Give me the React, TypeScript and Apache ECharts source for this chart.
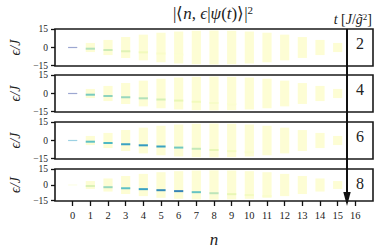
import React, { useEffect, useRef } from "react";
import * as echarts from "echarts";

// photon number n on the x axis
const nTicks = [0, 1, 2, 3, 4, 5, 6, 7, 8, 9, 10, 11, 12, 13, 14, 15, 16];
// energy tick labels
const epsTicks = [-15, 0, 15];
// times shown in the four panels (J / g~^2)
const times = [2, 4, 6, 8];

// half-height of the faint (yellow) energy band for every n
const bandN = [1, 2, 3, 4, 5, 6, 7, 8, 9, 10, 11, 12, 13, 14, 15];
const bandHalf = [3.8, 6.3, 8.7, 10.7, 12.3, 13.3, 13.9, 14.1, 13.9, 13.3, 12.3, 10.7, 8.7, 6.3, 3.8];

// energy of the dominant level for every n
const peakN = [0, 1, 2, 3, 4, 5, 6, 7, 8, 9, 10, 11];
const peakEps = [0, -1.0, -2.1, -3.1, -4.0, -5.0, -5.9, -6.9, -7.9, -8.8, -9.7, -10.6];

// weight of the dominant level in each panel (0..1)
const weightT2 = [0.85, 0.3, 0.25, 0.18, 0.1, 0.05, 0.02, 0, 0, 0, 0, 0];
const weightT4 = [0.85, 0.42, 0.37, 0.35, 0.3, 0.22, 0.15, 0.1, 0.06, 0.03, 0, 0];
const weightT6 = [0.6, 0.48, 0.52, 0.6, 0.63, 0.6, 0.44, 0.27, 0.15, 0.08, 0.04, 0];
const weightT8 = [0.05, 0.2, 0.35, 0.48, 0.6, 0.67, 0.69, 0.46, 0.28, 0.15, 0.08, 0.04];
const weights = [weightT2, weightT4, weightT6, weightT8];

const YLGNBU = ["#ffffd9", "#edf8b1", "#c7e9b4", "#7fcdbb", "#41b6c4", "#1d91c0", "#225ea8", "#253494", "#081d58"];

function hexToRgb(h: string) {
  return [parseInt(h.slice(1, 3), 16), parseInt(h.slice(3, 5), 16), parseInt(h.slice(5, 7), 16)];
}
function colorScale(v: number) {
  const t = Math.max(0, Math.min(1, v)) * (YLGNBU.length - 1);
  const i = Math.min(YLGNBU.length - 2, Math.floor(t));
  const f = t - i;
  const a = hexToRgb(YLGNBU[i]);
  const b = hexToRgb(YLGNBU[i + 1]);
  const c = a.map((x, k) => Math.round(x + (b[k] - x) * f));
  return `rgb(${c[0]},${c[1]},${c[2]})`;
}

const SERIF = "Liberation Serif";
const TOPS = [29, 75, 122, 169];
const H = 37;

export default function App() {
  const ref = useRef<HTMLDivElement>(null);
  useEffect(() => {
    if (!ref.current) return;
    const chart = echarts.init(ref.current, null, { renderer: "svg" });

    const grids: any[] = [];
    const xAxes: any[] = [];
    const yAxes: any[] = [];
    const series: any[] = [];

    times.forEach((t, i) => {
      const last = i === times.length - 1;
      grids.push({
        left: 53,
        top: TOPS[i],
        width: 320,
        height: H,
        show: true,
        borderColor: "#1a1a1a",
        borderWidth: 1.6,
        backgroundColor: "transparent",
      });
      xAxes.push({
        type: "value",
        gridIndex: i,
        min: -1,
        max: 17,
        position: "bottom",
        axisLine: { show: false, onZero: false },
        splitLine: { show: false },
        axisTick: last
          ? { show: true, customValues: nTicks, length: 5, lineStyle: { color: "#111", width: 1.3 } }
          : { show: false },
        axisLabel: last
          ? { show: true, customValues: nTicks, margin: 9, fontFamily: SERIF, fontSize: 10.5, color: "#222" }
          : { show: false },
        name: last ? "n" : "",
        nameLocation: "middle",
        nameGap: 30,
        nameTextStyle: { fontFamily: SERIF, fontStyle: "italic", fontSize: 17, color: "#222" },
      });
      yAxes.push({
        type: "value",
        gridIndex: i,
        min: -15.4,
        max: 15.4,
        position: "left",
        axisLine: { show: false, onZero: false },
        splitLine: { show: false },
        axisTick: { show: true, customValues: epsTicks, length: 4, lineStyle: { color: "#111", width: 1.3 } },
        axisLabel: {
          customValues: epsTicks,
          margin: 7,
          fontFamily: SERIF,
          fontSize: 9.5,
          lineHeight: 9,
          color: "#222",
          formatter: (v: number) => (v < 0 ? "\u2212" + Math.abs(v) : String(v)),
        },
        name: "\u03f5/J",
        nameLocation: "middle",
        nameRotate: 90,
        nameGap: 33,
        nameTextStyle: { fontFamily: SERIF, fontStyle: "italic", fontSize: 14, color: "#222" },
      });
      series.push({
        type: "custom",
        coordinateSystem: "cartesian2d",
        xAxisIndex: i,
        yAxisIndex: i,
        silent: true,
        data: bandN.map((n, k) => [n, bandHalf[k]]),
        renderItem: (_p: any, api: any) => {
          const n = api.value(0);
          const h = api.value(1);
          const p1 = api.coord([n - 0.26, h]);
          const p2 = api.coord([n + 0.26, -h]);
          return {
            type: "rect",
            shape: { x: p1[0], y: p1[1], width: p2[0] - p1[0], height: p2[1] - p1[1] },
            style: { fill: "#fdfdd4" },
          };
        },
      });
      const w = weights[i];
      series.push({
        type: "custom",
        coordinateSystem: "cartesian2d",
        xAxisIndex: i,
        yAxisIndex: i,
        silent: true,
        data: peakN.map((n, k) => [n, peakEps[k], w[k]]).filter((d) => d[2] > 0),
        renderItem: (_p: any, api: any) => {
          const n = api.value(0);
          const c = api.coord([n, api.value(1)]);
          const wd = api.size([0.52, 0])[0];
          const thin = n === 0;
          const hh = thin ? 1.2 : 2;
          return {
            type: "rect",
            shape: { x: c[0] - wd / 2, y: c[1] - hh / 2, width: wd, height: hh },
            style: { fill: colorScale(api.value(2)), opacity: thin ? 0.45 : 0.9 },
          };
        },
      });
    });

    const graphic: any[] = [
      {
        type: "text",
        x: 213,
        y: 13,
        style: {
          text: "{u||\u27e8}{i|n}{u|, }{i|\u03f5}{u||}{i|\u03c8}{u|(}{i|t}{u|)\u27e9|}{s|2}",
          align: "center",
          verticalAlign: "middle",
          rich: {
            u: { fontFamily: SERIF, fontSize: 17, fill: "#222" },
            i: { fontFamily: SERIF, fontSize: 17, fontStyle: "italic", fill: "#222" },
            s: { fontFamily: SERIF, fontSize: 11, fill: "#222", verticalAlign: "top" },
          },
        },
      },
      {
        type: "text",
        x: 372,
        y: 19,
        style: {
          text: "{i|t} {u|[}{i|J}{u|/}{i|g\u0303}{s|2}{u|]}",
          align: "right",
          verticalAlign: "middle",
          rich: {
            u: { fontFamily: SERIF, fontSize: 14, fill: "#222" },
            i: { fontFamily: SERIF, fontSize: 14, fontStyle: "italic", fill: "#222" },
            s: { fontFamily: SERIF, fontSize: 9, fill: "#222", verticalAlign: "top" },
          },
        },
      },
      {
        type: "line",
        shape: { x1: 347, y1: 29, x2: 347, y2: 195 },
        style: { stroke: "#111", lineWidth: 2 },
      },
      {
        type: "polygon",
        shape: { points: [[343.3, 192], [350.7, 192], [347, 206]] },
        style: { fill: "#111" },
      },
    ];
    times.forEach((t, i) => {
      graphic.push({
        type: "text",
        x: 360,
        y: TOPS[i] + 14,
        style: {
          text: String(t),
          align: "center",
          verticalAlign: "middle",
          fontFamily: SERIF,
          fontSize: 16,
          fill: "#222",
        },
      });
    });

    chart.setOption({
      animation: false,
      backgroundColor: "#fff",
      grid: grids,
      xAxis: xAxes,
      yAxis: yAxes,
      series,
      graphic,
    });
    return () => chart.dispose();
  }, []);
  return <div ref={ref} style={{ width: 374, height: 249, position: "fixed", left: 0, top: 0 }} />;
}
